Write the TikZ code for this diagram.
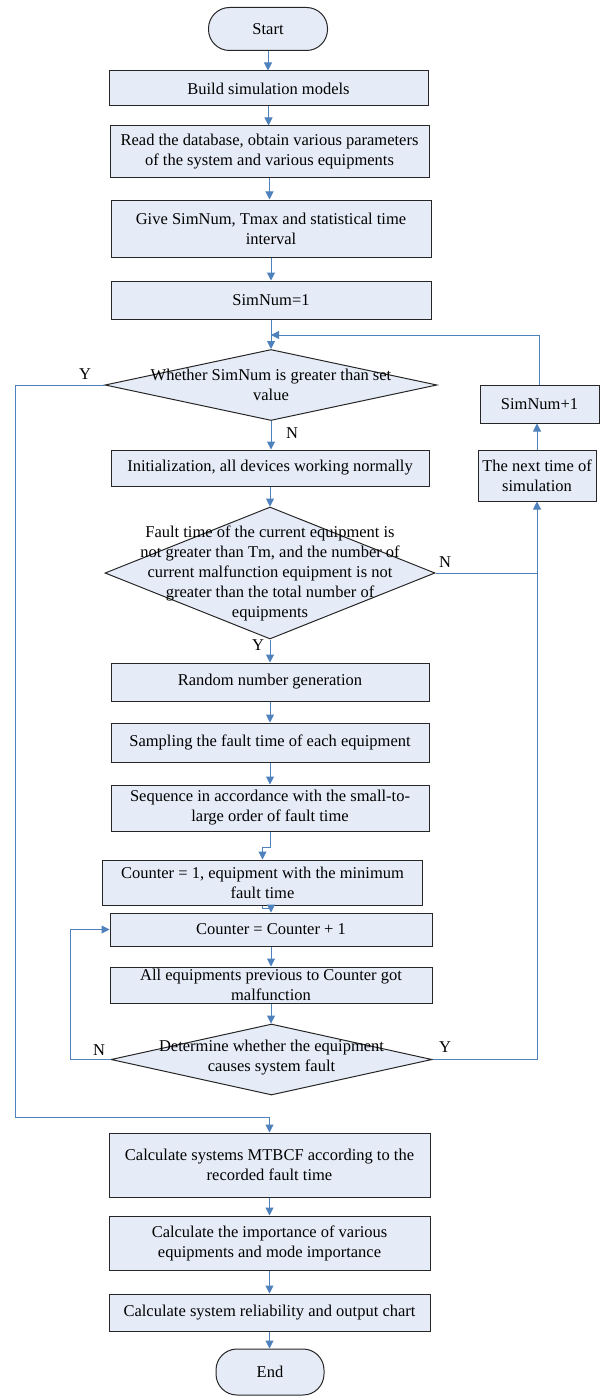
\documentclass[tikz,border=0pt]{standalone}
\usepackage{fontspec}
\setmainfont{Liberation Serif}
\usetikzlibrary{shapes.geometric,arrows.meta}
\definecolor{boxfill}{RGB}{230,236,247}
\definecolor{boxdraw}{RGB}{38,38,38}
\definecolor{conn}{RGB}{79,129,189}
\tikzset{
  box/.style={draw=boxdraw,fill=boxfill,line width=1pt,rectangle,inner sep=0pt,align=center,font=\fontsize{16.5}{20}\selectfont},
  term/.style={box,rounded corners=21pt},
  dia/.style={draw=boxdraw,fill=boxfill,line width=1pt,diamond,inner sep=0pt},
  txt/.style={align=center,font=\fontsize{16.5}{20}\selectfont,inner sep=0pt},
  lab/.style={font=\fontsize{16.5}{20}\selectfont,inner sep=0pt},
  line/.style={draw=conn,line width=1pt},
  arr/.style={line,-{Triangle[length=8pt,width=8pt]}},
}
\begin{document}
\begin{tikzpicture}[x=1pt,y=-1pt]
\useasboundingbox (0,0) rectangle (600,1399);
\node[term,minimum width=119pt,minimum height=43pt] (start) at (268,29) {Start};
\node[box,minimum width=319pt,minimum height=35pt] (build) at (268.5,88.5) {Build simulation models};
\node[box,minimum width=319pt,minimum height=52pt] (read) at (269.5,152) {Read the database, obtain various parameters\\of the system and various equipments};
\node[box,minimum width=320pt,minimum height=57pt] (give) at (271,228.5) {Give SimNum, Tmax and statistical time\\interval};
\node[box,minimum width=320pt,minimum height=38pt] (sim1) at (271,300) {SimNum=1};
\node[dia,minimum width=332pt,minimum height=71pt] (d1) at (271,385) {};
\node[txt] (d1t) at (271,385) {Whether SimNum is greater than set\\value};
\node[box,minimum width=318pt,minimum height=36pt] (init) at (270,468) {Initialization, all devices working normally};
\node[dia,minimum width=330pt,minimum height=132pt] (d2) at (270,573) {};
\node[txt] (d2t) at (270,573) {Fault time of the current equipment is\\not greater than Tm, and the number of\\current malfunction equipment is not\\greater than the total number of\\equipments};
\node[box,minimum width=318pt,minimum height=38pt] (rand) at (270,682) {Random number generation};
\node[box,minimum width=318pt,minimum height=39pt] (samp) at (270,742.5) {Sampling the fault time of each equipment};
\node[box,minimum width=318pt,minimum height=46pt] (seq) at (270,808) {Sequence in accordance with the small-to-\\large order of fault time};
\node[box,minimum width=320pt,minimum height=45pt] (c1) at (262.5,882.5) {Counter = 1, equipment with the minimum\\fault time};
\node[box,minimum width=322pt,minimum height=33pt] (cp) at (271,929.5) {Counter = Counter + 1};
\node[box,minimum width=322pt,minimum height=36pt] (alleq) at (271,985) {All equipments previous to Counter got\\malfunction};
\node[dia,minimum width=321pt,minimum height=71pt] (d3) at (271.5,1059.5) {};
\node[txt] (d3t) at (271.5,1058) {Determine whether the equipment\\causes system fault};
\node[box,minimum width=321pt,minimum height=64pt] (mtbcf) at (269.5,1165) {Calculate systems MTBCF according to the\\recorded fault time};
\node[box,minimum width=321pt,minimum height=54pt] (imp) at (269.5,1243) {Calculate the importance of various\\equipments and mode importance};
\node[box,minimum width=321pt,minimum height=37pt] (rel) at (269.5,1312.5) {Calculate system reliability and output chart};
\node[term,minimum width=108pt,minimum height=46pt] (end) at (270,1372) {End};
\node[box,minimum width=119pt,minimum height=38pt] (simp) at (539.5,404) {SimNum+1};
\node[box,minimum width=118pt,minimum height=51pt] (next) at (537,475.5) {The next time of\\simulation};
% connectors
\draw[arr] (start.south) -- (start.south |- build.north);
\draw[arr] (build.south) -- (build.south |- read.north);
\draw[arr] (read.south) -- (read.south |- give.north);
\draw[arr] (give.south) -- (give.south |- sim1.north);
\draw[arr] (sim1.south) -- (d1.north);
\coordinate (loopin) at (271,335);
\draw[arr] (simp.north) |- (loopin);
\draw[arr] (d1.south) -- (d1.south |- init.north);
\node[lab] (n1) at (292,433) {N};
\draw[arr] (d1.west) -- (15,385) -- (15,1117) -- (mtbcf.north |- 0,1117) -- (mtbcf.north);
\node[lab] (y1) at (85,374) {Y};
\draw[arr] (init.south) -- (init.south |- d2.north);
\draw[line] (d2.east) -- (next.south |- d2.east);
\node[lab] (n2) at (445,562) {N};
\draw[arr] (d2.south) -- (d2.south |- rand.north);
\node[lab] (y2) at (258,645) {Y};
\draw[arr] (rand.south) -- (rand.south |- samp.north);
\draw[arr] (samp.south) -- (samp.south |- seq.north);
\draw[arr] (seq.south) -- (270,847) -- (c1.north |- 0,847) -- (c1.north);
\draw[arr] (c1.south) -- (262.5,908.5) -- (cp.north |- 0,908.5) -- (cp.north);
\draw[arr] (cp.south) -- (cp.south |- alleq.north);
\draw[arr] (alleq.south) -- (alleq.south |- d3.north);
\draw[arr] (d3.west) -- (70,1059.5) -- (70,929.5) -- (cp.west);
\node[lab] (n3) at (99,1050) {N};
\draw[arr] (d3.east) -- (next.south |- d3.east) -- (next.south);
\node[lab] (y3) at (445,1047) {Y};
\draw[arr] (next.north) -- (next.north |- simp.south);
\draw[arr] (mtbcf.south) -- (mtbcf.south |- imp.north);
\draw[arr] (imp.south) -- (imp.south |- rel.north);
\draw[arr] (rel.south) -- (rel.south |- end.north);
\end{tikzpicture}
\end{document}
